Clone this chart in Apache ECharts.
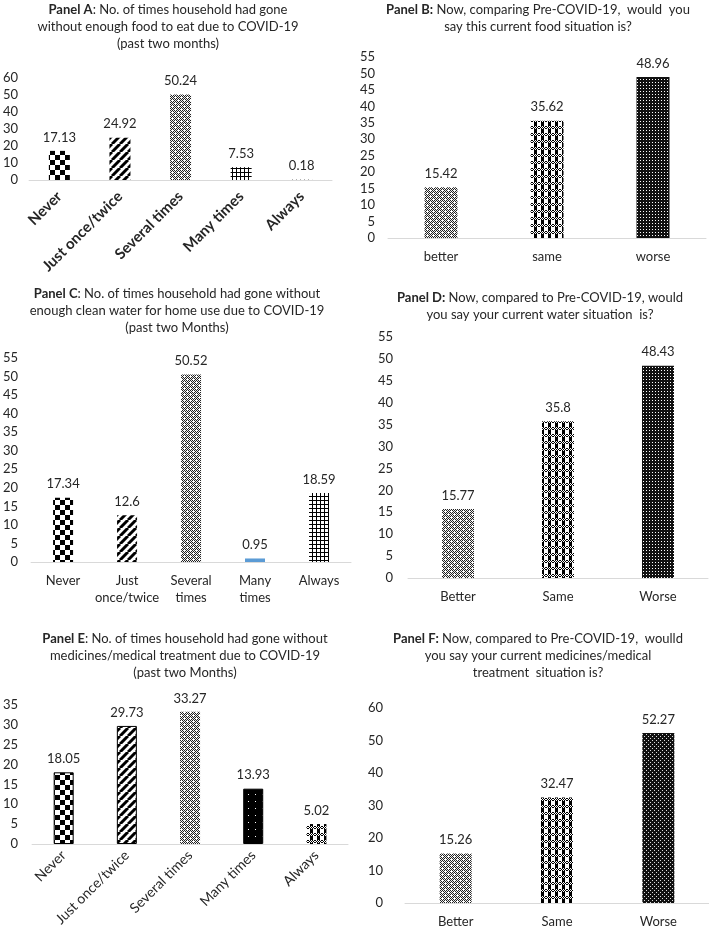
<!DOCTYPE html>
<html><head><meta charset="utf-8">
<script src="https://cdn.jsdelivr.net/npm/echarts@6/dist/echarts.min.js"></script>
<style>html,body{margin:0;padding:0;background:#fff}#c{width:709px;height:930px}</style>
</head><body><div id="c"></div>
<script>
// ---- data ----
const catsA = ['Never','Just once/twice','Several times','Many times','Always'];
const valsA = [17.13, 24.92, 50.24, 7.53, 0.18];
const catsB = ['better','same','worse'];
const valsB = [15.42, 35.62, 48.96];
const catsC = ['Never','Just\nonce/twice','Several\ntimes','Many\ntimes','Always'];
const valsC = [17.34, 12.6, 50.52, 0.95, 18.59];
const catsD = ['Better','Same','Worse'];
const valsD = [15.77, 35.8, 48.43];
const catsE = ['Never','Just once/twice','Several times','Many times','Always'];
const valsE = [18.05, 29.73, 33.27, 13.93, 5.02];
const catsF = ['Better','Same','Worse'];
const valsF = [15.26, 32.47, 52.27];
const yMax = {A:60, B:55, C:55, D:55, E:35, F:60};
const yStep = {A:10, B:5, C:5, D:5, E:5, F:10};
const titleA = '{b|Panel A}: No. of times household had gone\nwithout enough food to eat due to COVID-19\n(past two months)';
const titleB = '{b|Panel B:} Now, comparing Pre-COVID-19,  would  you\nsay this current food situation is?';
const titleC = '{b|Panel C}: No. of times household had gone without\nenough clean water for home use due to COVID-19\n(past two Months)';
const titleD = '{b|Panel D:} Now, compared to Pre-COVID-19, would\nyou say your current water situation  is?';
const titleE = '{b|Panel E}: No. of times household had gone without\nmedicines/medical treatment due to COVID-19\n(past two Months)';
const titleF = '{b|Panel F:} Now, compared to Pre-COVID-19,  woulld\nyou say your current medicines/medical\ntreatment  situation is?';

// ---- patterns ----
function pat(w,h,draw){const c=document.createElement('canvas');c.width=w;c.height=h;const g=c.getContext('2d');draw(g,w,h);return {image:c,repeat:'repeat'};}
const P = {
  checker: pat(10,10,(g)=>{g.fillStyle='#fff';g.fillRect(0,0,10,10);g.fillStyle='#000';g.fillRect(0,0,5,5);g.fillRect(5,5,5,5);}),
  diag: pat(8,8,(g)=>{g.fillStyle='#fff';g.fillRect(0,0,8,8);g.strokeStyle='#000';g.lineWidth=3;g.beginPath();for(const k of [0,8,16]){g.moveTo(k-8,8);g.lineTo(k,0);}g.stroke();}),
  greyDots: pat(6,6,(g)=>{for(let x=0;x<6;x++)for(let y=0;y<6;y++){g.fillStyle=((x+y)%2===0)?'#222':'#eee';g.fillRect(x,y,1,1);}g.fillStyle='#fff';g.fillRect(1,0,1,3);g.fillRect(0,1,3,1);g.fillRect(4,3,1,3);g.fillRect(3,4,3,1);}),
  grid: pat(4,4,(g)=>{g.fillStyle='#fff';g.fillRect(0,0,4,4);g.fillStyle='#000';g.fillRect(0,0,4,1);g.fillRect(0,0,1,4);}),
  plaid: pat(7,7,(g)=>{g.fillStyle='#fff';g.fillRect(0,0,7,7);for(let x=0;x<7;x++)for(let y=0;y<3;y++){if((x+y)%2===0){g.fillStyle='#000';g.fillRect(x,y,1,1);}}g.fillStyle='#000';g.fillRect(2,3,3,4);}),
  darkFine: pat(3,3,(g)=>{g.fillStyle='#111';g.fillRect(0,0,3,3);g.fillStyle='#fff';g.fillRect(1,1,1,1);}),
  darkDots: pat(4,4,(g)=>{g.fillStyle='#111';g.fillRect(0,0,4,4);g.fillStyle='#ddd';g.fillRect(0,0,1,1);g.fillRect(2,2,1,1);}),
  blackDots: pat(7,7,(g)=>{g.fillStyle='#000';g.fillRect(0,0,7,7);g.fillStyle='#fff';g.fillRect(3,3,1,1);}),
  blue: '#5b9bd5'
};

const FONT = 'Lato';
const TXT = '#262626';

const panels = [
  {cats:catsA, vals:valsA, key:'A', left:26, top:78, width:306, height:102, bw:21, ym:11, rotate:45, bold:true, xfs:15, xm:14,
   fills:[P.checker,P.diag,P.greyDots,P.grid,P.grid], borders:[0,0,0,0,0],
   title:titleA, tx:168, ty:1},
  {cats:catsB, vals:valsB, key:'B', left:388, top:57, width:318, height:181, bw:33, ym:13, rotate:0, xfs:13, xm:10,
   fills:[P.greyDots,P.plaid,P.darkFine], borders:[0,0,0], title:titleB, tx:538, ty:1},
  {cats:catsC, vals:valsC, key:'C', left:26, top:358, width:325, height:204, bw:20, ym:13, rotate:0, xfs:13, xm:10,
   fills:[P.checker,P.diag,P.greyDots,P.blue,P.grid], borders:[0,0,0,0,0], title:titleC, tx:177, ty:285},
  {cats:catsD, vals:valsD, key:'D', left:408, top:337, width:300, height:241, bw:32, ym:15, rotate:0, xfs:13, xm:10,
   fills:[P.greyDots,P.plaid,P.darkFine], borders:[0,0,0], title:titleD, tx:540, ty:289},
  {cats:catsE, vals:valsE, key:'E', left:27, top:705, width:321, height:142, bw:20, ym:14, rotate:45, xfs:14, xm:9,
   fills:[P.checker,P.diag,P.greyDots,P.blackDots,P.plaid], borders:[1,1,0,1,0], title:titleE, tx:185, ty:630},
  {cats:catsF, vals:valsF, key:'F', left:405, top:708, width:304, height:195, bw:32, ym:22, rotate:0, xfs:13, xm:10,
   fills:[P.greyDots,P.plaid,P.darkDots], borders:[0,0,0], title:titleF, tx:538, ty:630}
];

const option = {backgroundColor:'#fff', animation:false, textStyle:{fontFamily:FONT}, title:[], grid:[], xAxis:[], yAxis:[], series:[]};
panels.forEach((p,i)=>{
  option.title.push({text:p.title, left:p.tx, top:p.ty, textAlign:'center', padding:0,
    textStyle:{fontFamily:FONT, fontSize:13, fontWeight:'normal', color:TXT, lineHeight:17,
      rich:{b:{fontFamily:FONT, fontSize:13, fontWeight:'bold', color:TXT, lineHeight:17}}}});
  option.grid.push({left:p.left, top:p.top, width:p.width, height:p.height, containLabel:false});
  option.xAxis.push({type:'category', gridIndex:i, data:p.cats,
    axisLine:{show:true, lineStyle:{color:'#d9d9d9', width:1}}, axisTick:{show:false},
    axisLabel:{interval:0, rotate:p.rotate, margin:p.xm, color:TXT, fontFamily:FONT, fontSize:p.xfs,
      fontWeight:p.bold?'bold':'normal', lineHeight:17}});
  option.yAxis.push({type:'value', gridIndex:i, min:0, max:yMax[p.key], interval:yStep[p.key],
    axisLine:{show:false}, axisTick:{show:false}, splitLine:{show:false},
    axisLabel:{margin:p.ym, color:TXT, fontFamily:FONT, fontSize:13}});
  option.series.push({type:'bar', xAxisIndex:i, yAxisIndex:i, barWidth:p.bw,
    data:p.vals.map((v,j)=>({value:v, itemStyle:{color:p.fills[j], borderColor:'#000', borderWidth:p.borders[j]}})),
    label:{show:true, position:'top', distance:7, color:TXT, fontFamily:FONT, fontSize:13, formatter:'{c}'}});
});
const chart = echarts.init(document.getElementById('c'), null, {renderer:'canvas'});
chart.setOption(option);
</script></body></html>
